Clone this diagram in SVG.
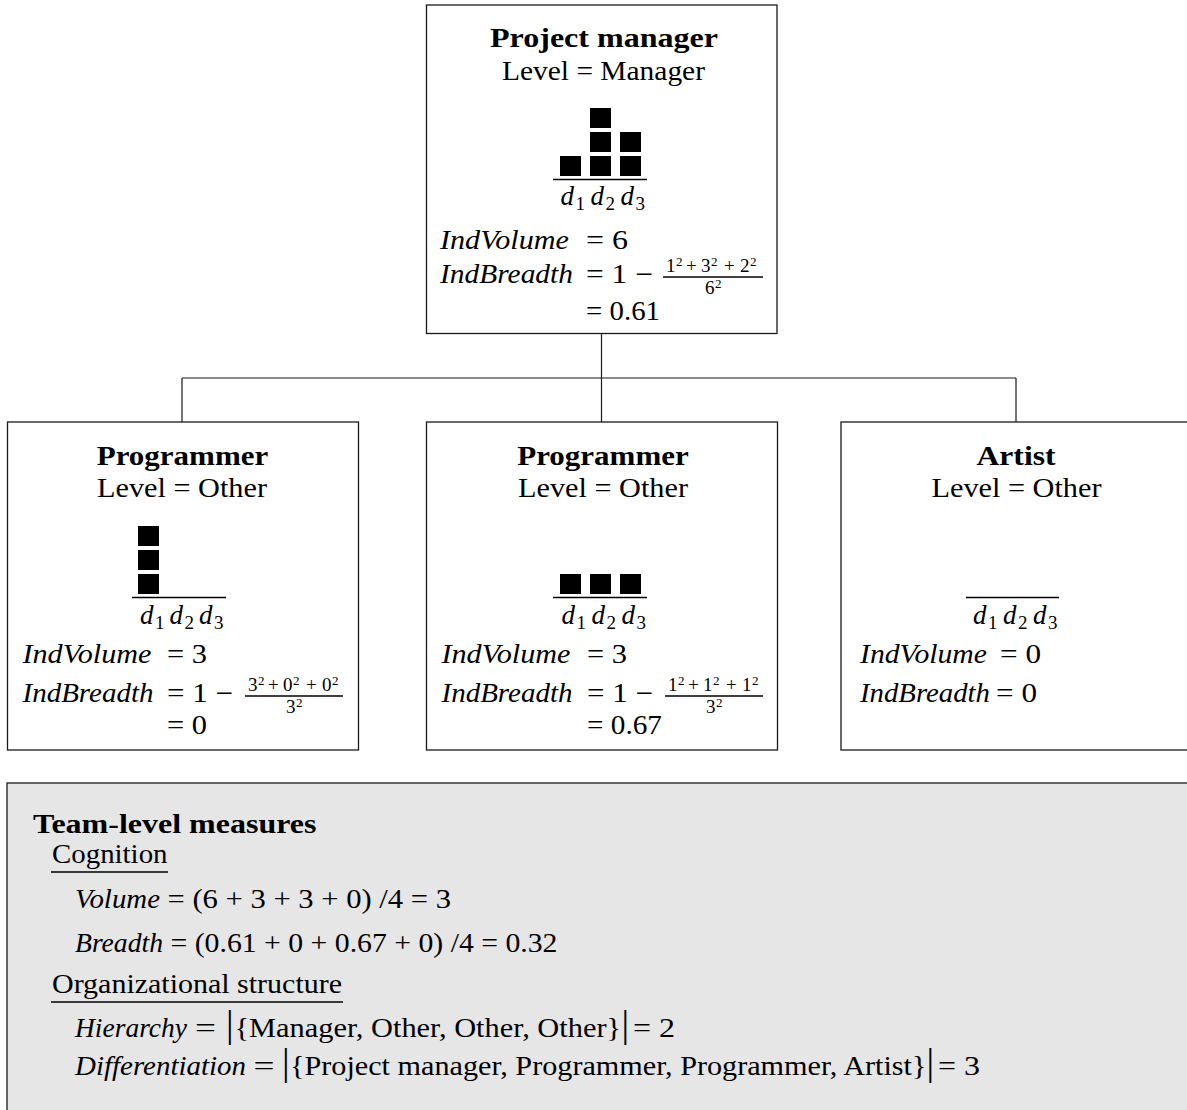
<svg xmlns="http://www.w3.org/2000/svg" width="1187" height="1110" viewBox="0 0 1187 1110">
<defs>
<style>
text{font-family:"Liberation Serif","Times New Roman",serif;font-size:27px;fill:#000}
.b{font-weight:bold}
.i{font-style:italic}
.sub{font-size:19px;font-style:normal}
.fr{font-size:19px}
.sup{font-size:13px}
.bar{font-size:38px}
.box{fill:#fff;stroke:#1a1a1a;stroke-width:1.3}
.panel{fill:#e6e6e6;stroke:#1a1a1a;stroke-width:1.3}
.rule{stroke:#000;stroke-width:1.3;fill:none}
.conn{stroke:#1a1a1a;stroke-width:1.2;fill:none}
</style>
<rect id="sq" width="21" height="20" fill="#000"/>
</defs>
<rect width="1187" height="1110" fill="#fff"/>

<g id="connectors" class="conn">
<path d="M601.5 333.5 V378 M182 378 H1016 M182 378 V422 M601.5 378 V422 M1016 378 V422"/>
</g>

<g id="node-project-manager">
<rect class="box" x="426.5" y="5" width="350.5" height="328.5"/>
<text class="b" x="604" y="47" text-anchor="middle" textLength="228" lengthAdjust="spacingAndGlyphs">Project manager</text>
<text x="603.5" y="80" text-anchor="middle" textLength="203" lengthAdjust="spacingAndGlyphs">Level = Manager</text>
<use href="#sq" x="560" y="156"/>
<use href="#sq" x="590" y="108"/><use href="#sq" x="590" y="132"/><use href="#sq" x="590" y="156"/>
<use href="#sq" x="620" y="132"/><use href="#sq" x="620" y="156"/>
<line class="rule" x1="553" y1="179.5" x2="647" y2="179.5"/>
<text y="205"><tspan class="i" x="560.5">d</tspan><tspan class="sub" x="575.5" dy="5">1</tspan><tspan class="i" x="590.5" dy="-5">d</tspan><tspan class="sub" x="605.5" dy="5">2</tspan><tspan class="i" x="620.5" dy="-5">d</tspan><tspan class="sub" x="635.5" dy="5">3</tspan></text>
<text class="i" x="440" y="249" textLength="129" lengthAdjust="spacingAndGlyphs">IndVolume</text>
<text x="586" y="249" textLength="42" lengthAdjust="spacingAndGlyphs">= 6</text>
<text class="i" x="440" y="283" textLength="133" lengthAdjust="spacingAndGlyphs">IndBreadth</text>
<text x="586" y="283" textLength="67" lengthAdjust="spacingAndGlyphs">= 1 −</text>
<text class="fr" y="272"><tspan x="666">1</tspan><tspan class="sup" x="676" dy="-6">2</tspan><tspan x="686" dy="6">+</tspan><tspan x="701">3</tspan><tspan class="sup" x="711" dy="-6">2</tspan><tspan x="724" dy="6">+</tspan><tspan x="740">2</tspan><tspan class="sup" x="750" dy="-6">2</tspan></text>
<line class="rule" x1="663" y1="277" x2="763" y2="277"/>
<text class="fr" y="294"><tspan x="705">6</tspan><tspan class="sup" x="715" dy="-6">2</tspan></text>
<text x="586" y="320" textLength="74" lengthAdjust="spacingAndGlyphs">= 0.61</text>
</g>

<g id="node-programmer-1">
<rect class="box" x="7.5" y="422" width="351" height="328"/>
<text class="b" x="182.5" y="465" text-anchor="middle" textLength="171.5" lengthAdjust="spacingAndGlyphs">Programmer</text>
<text x="182" y="497" text-anchor="middle" textLength="170" lengthAdjust="spacingAndGlyphs">Level = Other</text>
<use href="#sq" x="138" y="526"/><use href="#sq" x="138" y="550"/><use href="#sq" x="138" y="574"/>
<line class="rule" x1="132" y1="597.5" x2="226" y2="597.5"/>
<text y="624"><tspan class="i" x="140">d</tspan><tspan class="sub" x="155" dy="5">1</tspan><tspan class="i" x="169.5" dy="-5">d</tspan><tspan class="sub" x="184.5" dy="5">2</tspan><tspan class="i" x="199" dy="-5">d</tspan><tspan class="sub" x="214" dy="5">3</tspan></text>
<text class="i" x="22.5" y="663" textLength="129" lengthAdjust="spacingAndGlyphs">IndVolume</text>
<text x="167" y="663" textLength="40" lengthAdjust="spacingAndGlyphs">= 3</text>
<text class="i" x="22.5" y="702" textLength="131" lengthAdjust="spacingAndGlyphs">IndBreadth</text>
<text x="167" y="702" textLength="66" lengthAdjust="spacingAndGlyphs">= 1 −</text>
<text class="fr" y="691"><tspan x="248">3</tspan><tspan class="sup" x="258" dy="-6">2</tspan><tspan x="268" dy="6">+</tspan><tspan x="283">0</tspan><tspan class="sup" x="293" dy="-6">2</tspan><tspan x="306" dy="6">+</tspan><tspan x="322">0</tspan><tspan class="sup" x="332" dy="-6">2</tspan></text>
<line class="rule" x1="245" y1="696" x2="343" y2="696"/>
<text class="fr" y="713"><tspan x="286">3</tspan><tspan class="sup" x="296" dy="-6">2</tspan></text>
<text x="167" y="734" textLength="40" lengthAdjust="spacingAndGlyphs">= 0</text>
</g>

<g id="node-programmer-2">
<rect class="box" x="426.5" y="422" width="351" height="328"/>
<text class="b" x="603" y="465" text-anchor="middle" textLength="171.5" lengthAdjust="spacingAndGlyphs">Programmer</text>
<text x="603" y="497" text-anchor="middle" textLength="170" lengthAdjust="spacingAndGlyphs">Level = Other</text>
<use href="#sq" x="560" y="574"/><use href="#sq" x="590" y="574"/><use href="#sq" x="620" y="574"/>
<line class="rule" x1="553" y1="597.5" x2="647" y2="597.5"/>
<text y="624"><tspan class="i" x="561.5">d</tspan><tspan class="sub" x="576.5" dy="5">1</tspan><tspan class="i" x="591.5" dy="-5">d</tspan><tspan class="sub" x="606.5" dy="5">2</tspan><tspan class="i" x="621.5" dy="-5">d</tspan><tspan class="sub" x="636.5" dy="5">3</tspan></text>
<text class="i" x="441.5" y="663" textLength="129" lengthAdjust="spacingAndGlyphs">IndVolume</text>
<text x="587" y="663" textLength="40" lengthAdjust="spacingAndGlyphs">= 3</text>
<text class="i" x="441.5" y="702" textLength="131" lengthAdjust="spacingAndGlyphs">IndBreadth</text>
<text x="587" y="702" textLength="66" lengthAdjust="spacingAndGlyphs">= 1 −</text>
<text class="fr" y="691"><tspan x="668">1</tspan><tspan class="sup" x="678" dy="-6">2</tspan><tspan x="688" dy="6">+</tspan><tspan x="703">1</tspan><tspan class="sup" x="713" dy="-6">2</tspan><tspan x="726" dy="6">+</tspan><tspan x="742">1</tspan><tspan class="sup" x="752" dy="-6">2</tspan></text>
<line class="rule" x1="665" y1="696" x2="763" y2="696"/>
<text class="fr" y="713"><tspan x="706">3</tspan><tspan class="sup" x="716" dy="-6">2</tspan></text>
<text x="587" y="734" textLength="75" lengthAdjust="spacingAndGlyphs">= 0.67</text>
</g>

<g id="node-artist">
<rect class="box" x="841" y="422" width="360" height="328"/>
<text class="b" x="1016" y="465" text-anchor="middle" textLength="79" lengthAdjust="spacingAndGlyphs">Artist</text>
<text x="1016.5" y="497" text-anchor="middle" textLength="170" lengthAdjust="spacingAndGlyphs">Level = Other</text>
<line class="rule" x1="966" y1="597.5" x2="1059" y2="597.5"/>
<text y="624"><tspan class="i" x="973">d</tspan><tspan class="sub" x="988" dy="5">1</tspan><tspan class="i" x="1003" dy="-5">d</tspan><tspan class="sub" x="1018" dy="5">2</tspan><tspan class="i" x="1033" dy="-5">d</tspan><tspan class="sub" x="1048" dy="5">3</tspan></text>
<text class="i" x="860" y="663" textLength="127" lengthAdjust="spacingAndGlyphs">IndVolume</text>
<text x="1000" y="663" textLength="41" lengthAdjust="spacingAndGlyphs">= 0</text>
<text class="i" x="860" y="702" textLength="130" lengthAdjust="spacingAndGlyphs">IndBreadth</text>
<text x="996" y="702" textLength="41" lengthAdjust="spacingAndGlyphs">= 0</text>
</g>

<g id="team-measures">
<rect class="panel" x="7" y="783" width="1200" height="340"/>
<text class="b" x="33" y="833" textLength="283.5" lengthAdjust="spacingAndGlyphs">Team-level measures</text>
<text x="52" y="863" textLength="115.5" lengthAdjust="spacingAndGlyphs">Cognition</text>
<line class="rule" x1="51" y1="872" x2="168" y2="872"/>
<text class="i" x="75" y="908" textLength="85" lengthAdjust="spacingAndGlyphs">Volume</text>
<text x="167.5" y="908" textLength="283.5" lengthAdjust="spacingAndGlyphs">= (6 + 3 + 3 + 0) /4 = 3</text>
<text class="i" x="75" y="952" textLength="88" lengthAdjust="spacingAndGlyphs">Breadth</text>
<text x="170.5" y="952" textLength="387" lengthAdjust="spacingAndGlyphs">= (0.61 + 0 + 0.67 + 0) /4 = 0.32</text>
<text x="52" y="993" textLength="290" lengthAdjust="spacingAndGlyphs">Organizational structure</text>
<line class="rule" x1="51" y1="1002" x2="343" y2="1002"/>
<text class="i" x="75" y="1037" textLength="112" lengthAdjust="spacingAndGlyphs">Hierarchy</text>
<text x="195" y="1037" textLength="21" lengthAdjust="spacingAndGlyphs">=</text>
<text class="bar" x="226" y="1037">|</text>
<text x="234.5" y="1037" textLength="386.6" lengthAdjust="spacingAndGlyphs">{Manager, Other, Other, Other}</text>
<text class="bar" x="621.5" y="1037">|</text>
<text x="633" y="1037" textLength="42" lengthAdjust="spacingAndGlyphs">= 2</text>
<text class="i" x="75" y="1075" textLength="171" lengthAdjust="spacingAndGlyphs">Differentiation</text>
<text x="253.5" y="1075" textLength="21" lengthAdjust="spacingAndGlyphs">=</text>
<text class="bar" x="282" y="1075">|</text>
<text x="290" y="1075" textLength="636.5" lengthAdjust="spacingAndGlyphs">{Project manager, Programmer, Programmer, Artist}</text>
<text class="bar" x="926.5" y="1075">|</text>
<text x="938" y="1075" textLength="42" lengthAdjust="spacingAndGlyphs">= 3</text>
</g>
</svg>
